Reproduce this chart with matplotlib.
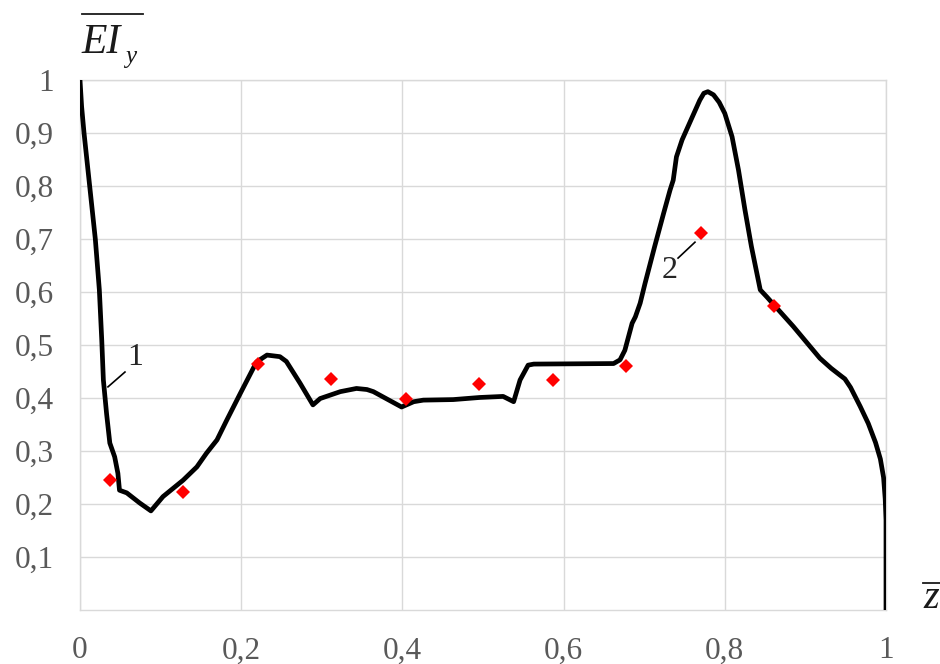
import matplotlib
matplotlib.use("Agg")
import matplotlib.pyplot as plt
from matplotlib.lines import Line2D
from matplotlib.ticker import FuncFormatter

# Curve 1: bending stiffness distribution along the relative length
z_curve = [0.000, 0.002, 0.005, 0.012, 0.019, 0.024, 0.027, 0.029, 0.033, 0.037,
           0.043, 0.047, 0.049, 0.058, 0.074, 0.088, 0.103, 0.128, 0.145, 0.157,
           0.170, 0.182, 0.199, 0.219, 0.232, 0.248, 0.256, 0.273, 0.289, 0.298,
           0.323, 0.343, 0.356, 0.364, 0.399, 0.414, 0.426, 0.463, 0.496, 0.525,
           0.538, 0.546, 0.556, 0.563, 0.662, 0.670, 0.676, 0.685, 0.689, 0.695,
           0.701, 0.713, 0.724, 0.732, 0.736, 0.740, 0.747, 0.759, 0.769, 0.774,
           0.779, 0.786, 0.793, 0.800, 0.809, 0.817, 0.825, 0.833, 0.844, 0.852,
           0.862, 0.885, 0.918, 0.932, 0.943, 0.949, 0.956, 0.968, 0.978, 0.987,
           0.993, 0.997, 0.999, 1.000, 1.000]
ei_curve = [1.000, 0.950, 0.900, 0.800, 0.700, 0.604, 0.509, 0.434, 0.370, 0.315,
            0.289, 0.258, 0.226, 0.221, 0.202, 0.187, 0.214, 0.245, 0.270, 0.296,
            0.321, 0.358, 0.409, 0.468, 0.481, 0.478, 0.469, 0.428, 0.387, 0.399,
            0.412, 0.418, 0.416, 0.412, 0.383, 0.393, 0.396, 0.397, 0.401, 0.403,
            0.393, 0.434, 0.462, 0.464, 0.465, 0.472, 0.490, 0.541, 0.553, 0.579,
            0.616, 0.686, 0.748, 0.792, 0.811, 0.855, 0.887, 0.928, 0.962, 0.975,
            0.978, 0.972, 0.958, 0.937, 0.893, 0.830, 0.755, 0.686, 0.604, 0.591,
            0.574, 0.535, 0.475, 0.456, 0.443, 0.436, 0.420, 0.384, 0.352, 0.316,
            0.285, 0.250, 0.210, 0.170, 0.000]

# Curve 2: discrete section values
z_points = [0.037, 0.128, 0.2205, 0.312, 0.404, 0.495, 0.587, 0.678, 0.7705, 0.861]
ei_points = [0.245, 0.222, 0.464, 0.436, 0.399, 0.426, 0.434, 0.461, 0.711, 0.574]

x_ticks = [0, 0.2, 0.4, 0.6, 0.8, 1.0]
y_ticks = [0.1, 0.2, 0.3, 0.4, 0.5, 0.6, 0.7, 0.8, 0.9, 1.0]

SERIF = "Liberation Serif"
TICK_GRAY = "#595959"
GRID_GRAY = "#d9d9d9"

fig = plt.figure(figsize=(9.4, 6.64), dpi=100)
ax = fig.add_axes([80 / 940, 54 / 664, 806 / 940, 530 / 664])

ax.plot(z_curve, ei_curve, color="black", lw=3.4, solid_joinstyle="round",
        solid_capstyle="butt", zorder=3)
ax.plot(z_points, ei_points, linestyle="none", marker="D", markersize=7.2,
        color="#ff0000", markeredgewidth=0, zorder=4)

ax.set_xlim(0, 1)
ax.set_ylim(0, 1)
ax.set_xticks(x_ticks)
ax.set_yticks(y_ticks)


def comma_fmt(v, _pos):
    s = f"{v:.1f}".rstrip("0").rstrip(".")
    return s.replace(".", ",")


ax.xaxis.set_major_formatter(FuncFormatter(comma_fmt))
ax.yaxis.set_major_formatter(FuncFormatter(comma_fmt))
ax.tick_params(axis="both", length=0, labelsize=22.5, labelcolor=TICK_GRAY)
ax.tick_params(axis="x", pad=19)
ax.tick_params(axis="y", pad=19)
for lab in ax.get_xticklabels() + ax.get_yticklabels():
    lab.set_fontfamily(SERIF)

ax.grid(True, color=GRID_GRAY, lw=1.0, zorder=0)
ax.set_axisbelow(True)
for sp in ax.spines.values():
    sp.set_color(GRID_GRAY)
    sp.set_linewidth(1.0)

# Curve labels with leader lines
ax.plot([0.0347, 0.0558], [0.421, 0.449], color="black", lw=1.2, zorder=5)
ax.text(0.068, 0.449, "1", fontfamily=SERIF, fontsize=23, color="#262626",
        ha="center", va="bottom", zorder=5)
ax.plot([0.742, 0.763], [0.664, 0.694], color="black", lw=1.2, zorder=5)
ax.text(0.732, 0.614, "2", fontfamily=SERIF, fontsize=23, color="#262626",
        ha="center", va="bottom", zorder=5)


def px(x, y):
    return x / 940, 1 - y / 664


# Axis titles: overlined EI_y and z
fig.text(*px(81, 53), "EI", fontfamily=SERIF, fontstyle="italic", fontsize=30,
         color="#1a1a1a", ha="left", va="baseline")
fig.text(*px(125, 63), "y", fontfamily=SERIF, fontstyle="italic", fontsize=18,
         color="#1a1a1a", ha="left", va="baseline")
fig.add_artist(Line2D([82 / 940, 143 / 940], [1 - 14 / 664, 1 - 14 / 664],
                      transform=fig.transFigure, color="#1a1a1a", lw=1.3))

fig.text(*px(923, 608), "z", fontfamily=SERIF, fontstyle="italic", fontsize=29,
         color="#1a1a1a", ha="left", va="baseline")
fig.add_artist(Line2D([923 / 940, 940 / 940], [1 - 583 / 664, 1 - 583 / 664],
                      transform=fig.transFigure, color="#1a1a1a", lw=1.3))

fig.savefig("out.png", dpi=100)
